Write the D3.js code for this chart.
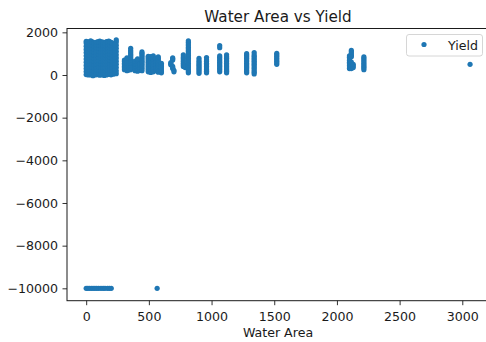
<!DOCTYPE html>
<html>
<head>
<meta charset="utf-8">
<script src="https://cdn.jsdelivr.net/npm/d3@7/dist/d3.min.js"></script>
<style>
  html, body { margin: 0; padding: 0; background: #fff; }
  svg { display: block; }
  text { font-family: "DejaVu Sans", sans-serif; fill: #1a1a1a; }
</style>
</head>
<body>
<svg id="chart" width="486" height="342"></svg>
<script>
// Water area of each column of observations
const areaColumns = [
  0, 18, 36, 54, 72, 90, 108, 126, 144, 162, 180, 198, 216, 240,
  9, 27, 45, 63, 81, 99, 117, 135, 153, 171, 189, 207, 228,
  305, 325, 340, 355,
  390, 410, 430, 445,
  495, 515, 535, 555, 575, 600,
  690, 675, 690, 700,
  775, 790, 815,
  900, 960, 1065, 1120, 1280, 1340, 1520,
  2100, 2115, 2130, 2215, 3062,
  0, 12, 25, 40, 55, 70, 85, 100, 118, 135, 150, 170, 185, 200, 566
];

// Yield values observed at each of those water areas
const yieldColumns = [
  [20, 160, 300, 450, 600, 750, 900, 1050, 1200, 1350, 1500, 1580],
  [0, 140, 290, 430, 580, 720, 870, 1010, 1160, 1300, 1450, 1560],
  [10, 150, 310, 460, 610, 760, 900, 1040, 1190, 1330, 1480, 1600],
  [-30, 120, 270, 420, 570, 710, 860, 1000, 1150, 1290, 1440, 1540],
  [0, 150, 300, 450, 600, 750, 890, 1030, 1180, 1320, 1470],
  [20, 170, 320, 470, 620, 760, 910, 1050, 1200, 1340, 1480, 1560],
  [-10, 140, 290, 440, 590, 730, 880, 1020, 1170, 1310, 1450, 1590],
  [10, 160, 310, 460, 600, 750, 900, 1040, 1190, 1330, 1470, 1560],
  [-20, 130, 280, 430, 580, 720, 870, 1010, 1160, 1300, 1440, 1520],
  [0, 150, 300, 450, 590, 740, 880, 1030, 1170, 1310, 1450, 1570],
  [30, 180, 330, 470, 620, 770, 910, 1060, 1200, 1350, 1490, 1590],
  [10, 160, 300, 450, 600, 740, 890, 1030, 1180, 1320, 1460, 1530],
  [40, 190, 340, 480, 630, 780, 920, 1070, 1210, 1350, 1480],
  [60, 200, 350, 500, 650, 800, 950, 1100, 1250, 1400, 1550, 1650],
  [90, 230, 380, 520, 680, 830, 970, 1120, 1270, 1420, 1540],
  [70, 220, 360, 500, 650, 800, 940, 1090, 1230, 1380, 1510],
  [80, 230, 380, 530, 680, 830, 970, 1110, 1260, 1400, 1550],
  [50, 190, 340, 490, 640, 780, 930, 1070, 1220, 1360, 1500],
  [70, 220, 370, 520, 670, 820, 960, 1100, 1250, 1390, 1530],
  [90, 240, 390, 540, 690, 830, 980, 1120, 1270, 1410, 1550],
  [60, 210, 360, 510, 660, 800, 950, 1090, 1240, 1380, 1520],
  [80, 230, 380, 530, 670, 820, 970, 1110, 1260, 1400, 1530],
  [50, 200, 350, 500, 650, 790, 940, 1080, 1230, 1370, 1480],
  [70, 220, 370, 520, 660, 810, 950, 1100, 1240, 1380, 1520],
  [100, 250, 400, 540, 690, 840, 980, 1130, 1270, 1420, 1550],
  [80, 230, 370, 520, 670, 810, 960, 1100, 1250, 1390, 1490],
  [110, 260, 410, 550, 700, 850, 990, 1140, 1280, 1420],
  [250, 330, 400, 480, 550, 630, 700],
  [200, 280, 350, 430, 500, 580, 650, 730, 800],
  [230, 300, 380, 450, 530],
  [250, 330, 400, 480, 550, 630, 700, 780, 850, 930, 1000, 1080, 1150, 1250],
  [200, 280, 350, 430, 500, 580, 650],
  [180, 260, 330, 400, 480, 550, 630, 700, 760],
  [220, 300, 370, 450, 520],
  [200, 280, 350, 430, 500, 580, 650, 730, 800, 880, 950, 1020, 1080],
  [150, 230, 300, 380, 450, 530, 600, 680, 750, 820, 880],
  [120, 200, 270, 350, 420, 500, 570, 650, 720, 790, 860],
  [150, 230, 300, 380, 450, 530, 600, 680, 750, 830, 900],
  [200, 280, 350, 430, 500, 580, 650, 720, 780],
  [130, 210, 280, 360, 430, 510, 580, 650, 720, 790, 850],
  [100, 180, 250, 330, 400, 480, 550],
  [700, 760, 800],
  [480, 530, 580],
  [300, 350, 400],
  [150, 220],
  [400, 480, 550, 630, 700, 780, 850, 950],
  [350, 400, 450],
  [100, 180, 250, 330, 400, 480, 550, 630, 700, 780, 850, 930, 1000, 1080, 1150, 1230, 1300, 1380, 1450, 1530, 1600],
  [80, 160, 230, 310, 380, 460, 530, 610, 680, 780],
  [100, 180, 250, 330, 400, 480, 550, 630, 700, 820],
  [150, 230, 300, 380, 450, 530, 600, 680, 750, 830, 900, 1280, 1380],
  [100, 180, 250, 330, 400, 480, 550, 630, 700, 780, 850, 950],
  [100, 180, 250, 330, 400, 480, 550, 630, 700, 780, 850, 930, 1000],
  [50, 130, 200, 280, 350, 430, 500, 580, 650, 730, 800, 880, 950, 1050],
  [500, 580, 650, 730, 800, 880, 950, 1020],
  [300, 380, 450, 530, 600, 680, 750, 830, 900],
  [300, 380, 450, 530, 600, 850, 930, 1000, 1080, 1150],
  [350, 430, 500],
  [250, 330, 400, 480, 550, 630, 700, 780, 850],
  [500],
  [-10000], [-10000], [-10000], [-10000], [-10000], [-10000], [-10000], [-10000],
  [-10000], [-10000], [-10000], [-10000], [-10000], [-10000], [-10000], [-10000]
];

const xTicks = [0, 500, 1000, 1500, 2000, 2500, 3000];
const yTicks = [2000, 0, -2000, -4000, -6000, -8000, -10000];
const xDomain = [-153, 3213];
const yDomain = [-10580, 2180];

const titleText = "Water Area vs Yield";
const xLabelText = "Water Area";
const seriesName = "Yield";

const color = "#1f77b4";
const ink = "#1a1a1a";
const plot = { left: 67, right: 489, top: 28.5, bottom: 300.7 };
const fontSize = 12.6;
const markerR = 2.6;

const svg = d3.select("#chart");

const x = d3.scaleLinear().domain(xDomain).range([plot.left, plot.right]);
const y = d3.scaleLinear().domain(yDomain).range([plot.bottom, plot.top]);

const points = areaColumns.flatMap((a, i) => yieldColumns[i].map(v => ({ area: a, yield: v })));

const clipId = "plot-clip";
svg.append("clipPath").attr("id", clipId)
  .append("rect")
  .attr("x", plot.left).attr("y", plot.top)
  .attr("width", plot.right - plot.left).attr("height", plot.bottom - plot.top);

// scatter points
svg.append("g")
  .attr("clip-path", `url(#${clipId})`)
  .selectAll("circle")
  .data(points)
  .join("circle")
  .attr("cx", d => x(d.area))
  .attr("cy", d => y(d.yield))
  .attr("r", markerR)
  .attr("fill", color);

const fmt = v => (v < 0 ? "\u2212" + Math.abs(v) : String(v));

// axes
const xAxis = svg.append("g")
  .attr("transform", `translate(0,${plot.bottom})`)
  .call(d3.axisBottom(x).tickValues(xTicks).tickFormat(fmt).tickSize(4.5).tickPadding(7));
const yAxis = svg.append("g")
  .attr("transform", `translate(${plot.left},0)`)
  .call(d3.axisLeft(y).tickValues(yTicks).tickFormat(fmt).tickSize(4.5).tickPadding(4.5));

[xAxis, yAxis].forEach(g => {
  g.select(".domain").remove();
  g.selectAll(".tick line").attr("stroke", ink).attr("stroke-width", 0.9);
  g.selectAll(".tick text")
    .attr("font-family", "DejaVu Sans, sans-serif")
    .attr("font-size", fontSize)
    .attr("fill", ink);
});

// spines
svg.append("rect")
  .attr("x", plot.left).attr("y", plot.top)
  .attr("width", plot.right - plot.left).attr("height", plot.bottom - plot.top)
  .attr("fill", "none").attr("stroke", ink).attr("stroke-width", 1);

// title
svg.append("text")
  .attr("x", (plot.left + plot.right) / 2).attr("y", 21.5)
  .attr("text-anchor", "middle")
  .attr("font-size", 15.2)
  .text(titleText);

// x axis label
svg.append("text")
  .attr("x", (plot.left + plot.right) / 2).attr("y", 337)
  .attr("text-anchor", "middle")
  .attr("font-size", fontSize)
  .text(xLabelText);

// legend
const legend = svg.append("g");
legend.append("rect")
  .attr("x", 406.5).attr("y", 34.5).attr("width", 76).attr("height", 21.5)
  .attr("rx", 2.5)
  .attr("fill", "#fff").attr("fill-opacity", 0.8)
  .attr("stroke", "#cccccc").attr("stroke-width", 0.8);
legend.append("circle")
  .attr("cx", 424).attr("cy", 44.5).attr("r", markerR).attr("fill", color);
legend.append("text")
  .attr("x", 448).attr("y", 49.5)
  .attr("font-size", fontSize)
  .text(seriesName);
</script>
</body>
</html>
